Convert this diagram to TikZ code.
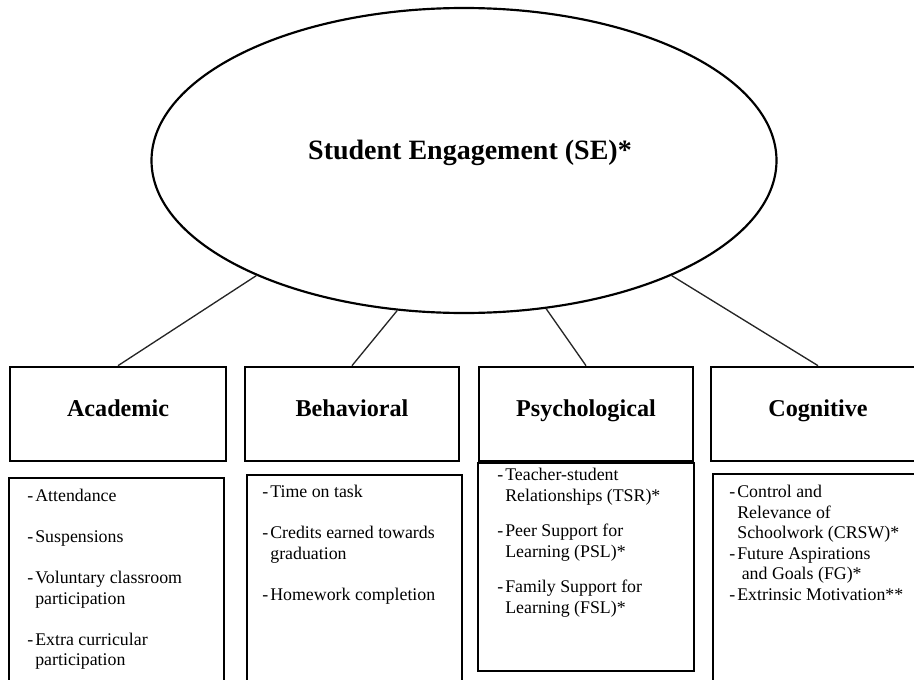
\documentclass[tikz,border=0pt]{standalone}
\usepackage{fontspec}
\setmainfont{Liberation Serif}
\usetikzlibrary{shapes.geometric}

\newcommand{\dsh}{\makebox[4.8pt][l]{-}}
\newcommand{\hang}{\hspace*{4.8pt}}

\begin{document}
\begin{tikzpicture}[x = 0.6pt, y = -0.6pt,
        headbox/.style = {draw, line width = 1.6pt, minimum width = 128.4pt, minimum height = 56.4pt,
            text height = 10pt, text depth = 7.6pt,
            font = \fontsize{14.5pt}{17pt}\selectfont\bfseries},
        listbox/.style = {draw, line width = 0.9pt, minimum width = 129pt},
        listtext/.style = {anchor = north west, inner sep = 0pt, align = left,
            font = \fontsize{10.7pt}{12.3pt}\selectfont},
        link/.style = {line width = 0.8pt, black!85}]

        \useasboundingbox (0,0) rectangle (914,680);

        \node (se) at (464,160.5) [ellipse, draw, line width = 1.3pt, minimum width = 375pt, minimum height = 183pt] {};
        \node (title) at (470,153) [font = \fontsize{16.8pt}{20pt}\selectfont\bfseries] {Student Engagement (SE)*};

        \node (acad) at (118,414) [headbox, minimum width = 129.6pt] {Academic};
        \node (behav) at (352,414) [headbox] {Behavioral};
        \node (psych) at (586,414) [headbox] {Psychological};
        \node (cogn) at (818,414) [headbox] {Cognitive};

        \draw [link] (se.209.7) -- (acad.north);
        \draw [link] (se.246.9) -- (behav.north);
        \draw [link] (se.299.8) -- (psych.north);
        \draw [link] (se.331.7) -- (cogn.north);

        \node (acadlist) at (116.5,589) [listbox, minimum height = 133.2pt] {};
        \node (behavlist) at (354.5,587.5) [listbox, minimum height = 135pt] {};
        \node (psychlist) at (586,567) [listbox, minimum width = 129.6pt, minimum height = 124.8pt] {};
        \node (cognlist) at (820.5,587) [listbox, minimum height = 135.6pt] {};

        \node (acadtext) at (27,489) [listtext] {\dsh Attendance\\[12.3pt]
            \dsh Suspensions\\[12.3pt]
            \dsh Voluntary classroom\\
            \hang participation\\[12.3pt]
            \dsh Extra curricular\\
            \hang participation};
        \node (behavtext) at (262,485) [listtext] {\dsh Time on task\\[12.3pt]
            \dsh Credits earned towards\\
            \hang graduation\\[12.3pt]
            \dsh Homework completion};
        \node (psychtext) at (497,468) [listtext] {\dsh Teacher-student\\
            \hang Relationships (TSR)*\\[9pt]
            \dsh Peer Support for\\
            \hang Learning (PSL)*\\[9pt]
            \dsh Family Support for\\
            \hang Learning (FSL)*};
        \node (cogntext) at (729,485) [listtext] {\dsh Control and\\
            \hang Relevance of\\
            \hang Schoolwork (CRSW)*\\
            \dsh Future Aspirations\\
            \hang\ and Goals (FG)*\\
            \dsh Extrinsic Motivation**};

    \end{tikzpicture}
\end{document}
